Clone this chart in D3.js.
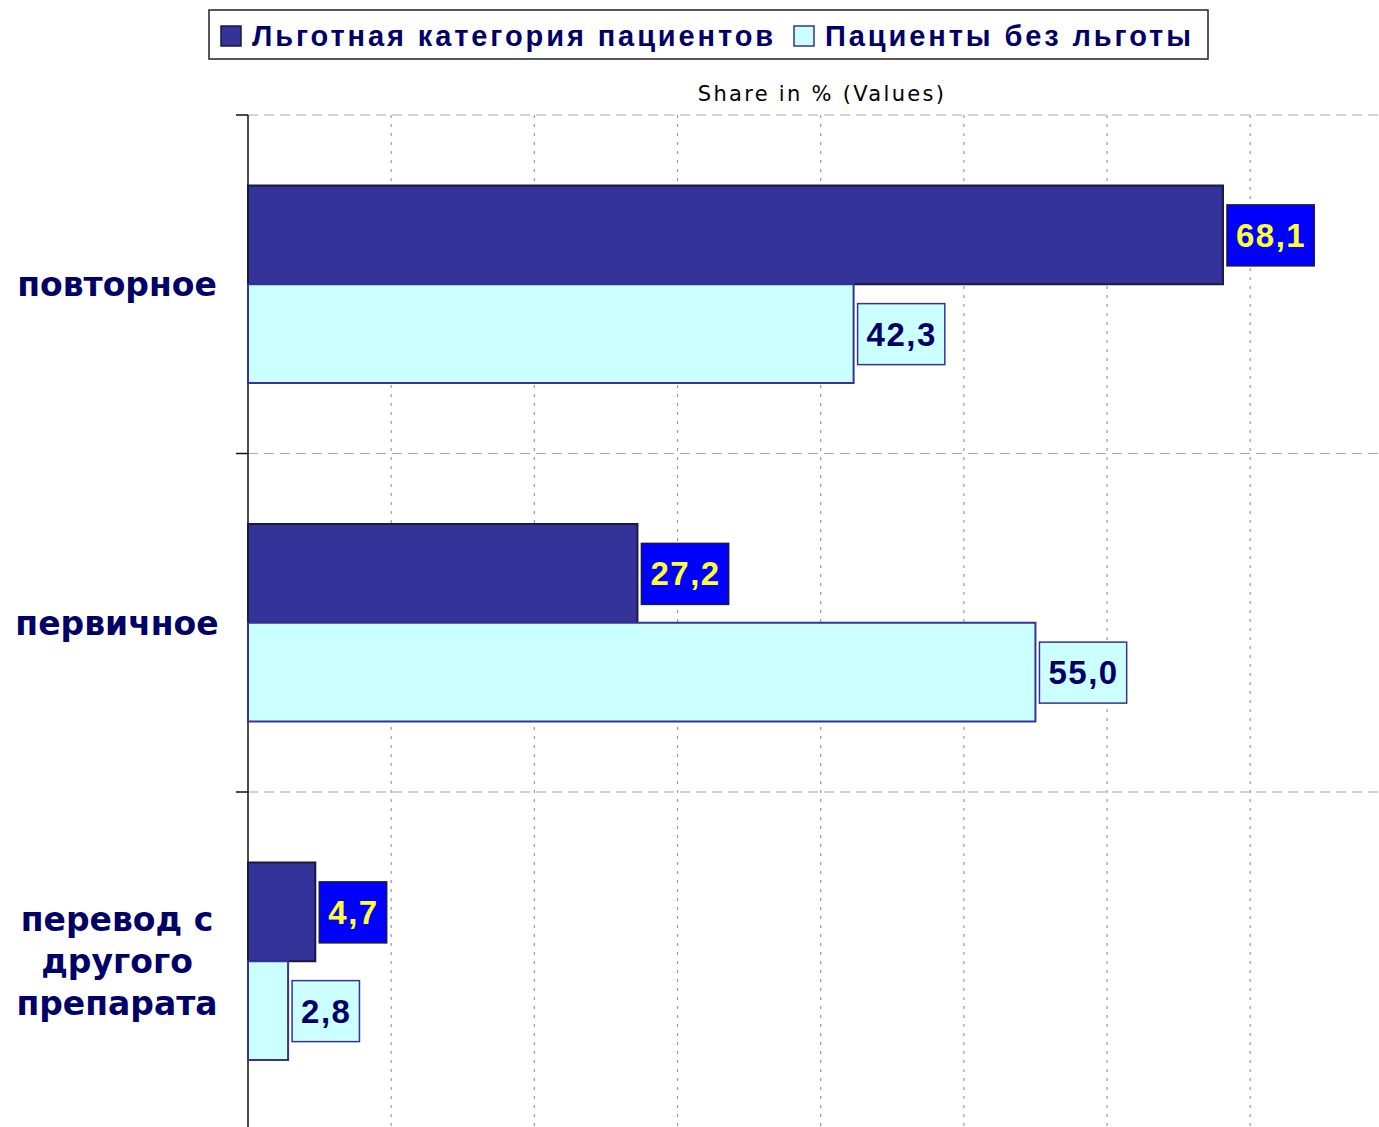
<!DOCTYPE html>
<html><head><meta charset="utf-8">
<script src="https://cdn.jsdelivr.net/npm/d3@7"></script>
<style>html,body{margin:0;padding:0;background:#fff;overflow:hidden}</style>
</head><body>
<svg id="c" width="1379" height="1127"></svg>
<script>
const categories = ["повторное", "первичное", "перевод с|другого|препарата"];
const seriesNames = ["Льготная категория пациентов", "Пациенты без льготы"];
const privileged = [68.1, 27.2, 4.7];
const nonPrivileged = [42.3, 55.0, 2.8];
const xTicks = [0, 10, 20, 30, 40, 50, 60, 70, 80];
const axisTitle = "Share in % (Values)";

(function(){
const svg = d3.select("#c");
const plotLeft = 248, plotTop = 115, bandH = 338.5;
const x = d3.scaleLinear().domain([0, 80]).range([plotLeft, plotLeft + 80 * 14.317]);
const y = d3.scaleBand().domain(categories).range([plotTop, plotTop + bandH * 3]).padding(0);
const ys = d3.scaleBand().domain([0, 1]).range([0, y.bandwidth()]).paddingInner(0).paddingOuter(0.714);

const colors = [{fill:"#333399", stroke:"#1a1a40", lblFill:"#0000ff", lblStroke:"#1a1a40", lblText:"#ffff33"},
                {fill:"#ccffff", stroke:"#333399", lblFill:"#ccffff", lblStroke:"#333399", lblText:"#000066"}];

// vertical dotted grid
svg.append("g").selectAll("line").data(xTicks.filter(d => d > 0)).join("line")
  .attr("x1", d => x(d)).attr("x2", d => x(d)).attr("y1", plotTop).attr("y2", 1127)
  .attr("stroke", "#9a9a9a").attr("stroke-width", 1.2).attr("stroke-dasharray", "3,6");
// horizontal dashed grid at category boundaries
const bounds = categories.map(c => y(c));
svg.append("g").selectAll("line").data(bounds).join("line")
  .attr("x1", plotLeft).attr("x2", 1379).attr("y1", d => d).attr("y2", d => d)
  .attr("stroke", "#a8a8a8").attr("stroke-width", 1.2).attr("stroke-dasharray", "10,6");

// axis
svg.append("line").attr("x1", plotLeft).attr("x2", plotLeft).attr("y1", plotTop).attr("y2", 1127)
  .attr("stroke", "#111").attr("stroke-width", 1.5);
svg.append("g").selectAll("line").data(bounds).join("line")
  .attr("x1", plotLeft - 12).attr("x2", plotLeft).attr("y1", d => d).attr("y2", d => d)
  .attr("stroke", "#111").attr("stroke-width", 1.5);

// bars
const seriesVals = [privileged, nonPrivileged];
seriesVals.forEach((vals, si) => {
  const g = svg.append("g");
  g.selectAll("rect").data(vals).join("rect")
    .attr("x", x(0)).attr("y", (d, i) => y(categories[i]) + ys(si))
    .attr("width", d => x(d) - x(0)).attr("height", ys.bandwidth())
    .attr("fill", colors[si].fill).attr("stroke", colors[si].stroke).attr("stroke-width", 2);
});

// value labels
seriesVals.forEach((vals, si) => {
  vals.forEach((v, i) => {
    const cy = y(categories[i]) + ys(si) + ys.bandwidth() / 2;
    const txt = v.toFixed(1).replace(".", ",");
    const bx = x(v) + 4;
    const g = svg.append("g");
    const rect = g.append("rect").attr("y", cy - 30).attr("height", 61)
      .attr("fill", colors[si].lblFill).attr("stroke", colors[si].lblStroke).attr("stroke-width", 1.5);
    const t = g.append("text").text(txt)
      .attr("y", cy + 12).attr("font-family", "Liberation Sans, Arial, sans-serif")
      .attr("font-weight", "bold").attr("font-size", 33).attr("letter-spacing", 1.5)
      .attr("fill", colors[si].lblText);
    const w = t.node().getComputedTextLength();
    rect.attr("x", bx).attr("width", w + 17);
    t.attr("x", bx + 9);
  });
});

// category labels
categories.forEach(c => {
  const lines = c.split("|");
  const cy = y(c) + y.bandwidth() / 2;
  const lh = 42;
  const t = svg.append("text").attr("text-anchor", "middle")
    .attr("font-family", "DejaVu Sans, sans-serif").attr("font-weight", "bold")
    .attr("font-size", 33).attr("fill", "#000066");
  lines.forEach((l, k) => {
    t.append("tspan").attr("x", 117).attr("y", cy + (k - (lines.length - 1) / 2) * lh + 12).text(l);
  });
});

// axis title
svg.append("text").attr("x", 822).attr("y", 101).attr("text-anchor", "middle")
  .attr("font-family", "DejaVu Sans, Verdana, sans-serif").attr("font-size", 21)
  .attr("letter-spacing", 2.3).attr("fill", "#000").text(axisTitle);

// legend
svg.append("rect").attr("x", 209).attr("y", 10).attr("width", 999).attr("height", 49)
  .attr("fill", "#fff").attr("stroke", "#222").attr("stroke-width", 1.5);
const legX = [221, 794];
seriesNames.forEach((n, si) => {
  svg.append("rect").attr("x", legX[si]).attr("y", 26).attr("width", 20).attr("height", 20)
    .attr("fill", colors[si].fill).attr("stroke", si === 0 ? "#1a1a40" : "#333399").attr("stroke-width", 1.5);
  svg.append("text").attr("x", legX[si] + 31).attr("y", 46)
    .attr("font-family", "Liberation Sans, Arial, sans-serif").attr("font-weight", "bold")
    .attr("font-size", 29).attr("letter-spacing", 2.9).attr("fill", "#000066").text(n);
});
})();
</script>
</body></html>
